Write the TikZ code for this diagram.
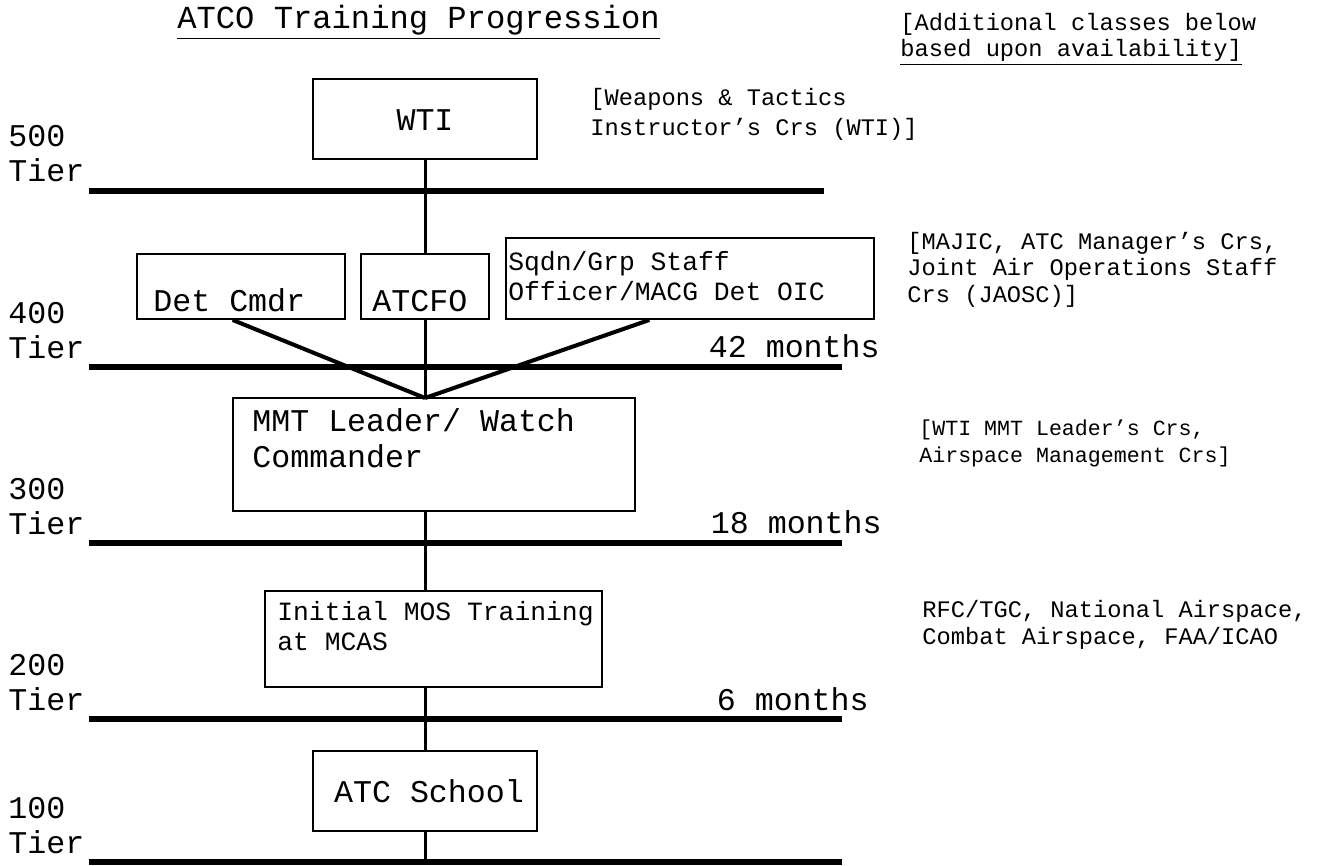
\documentclass[tikz,border=0pt]{standalone}
\usepackage{fontspec}
\setmainfont{Liberation Mono}
\usetikzlibrary{positioning, calc}

\begin{document}
\begin{tikzpicture}[x=0.02cm, y=-0.02cm,
		box/.style={draw, rectangle, line width=1.1pt, inner sep=0pt},
		big/.style={font=\fontsize{18}{20}\selectfont, inner sep=0pt, align=left},
		mid/.style={font=\fontsize{15}{16.8}\selectfont, inner sep=0pt, align=left},
		note/.style={font=\fontsize{13.5}{15}\selectfont, inner sep=0pt, align=left},
		small note/.style={font=\fontsize{12.3}{15.3}\selectfont, inner sep=0pt, align=left},
		tier line/.style={line width=3.2pt},
		link/.style={line width=1.7pt},
		diag/.style={line width=2.3pt}]

		\useasboundingbox (0,0) rectangle (1327,865);

		%% Headings
		\node (title) [big, font=\fontsize{18.3}{20}\selectfont, anchor=base west] at (177,29) {\underline{ATCO Training Progression}};
		\node (avail) [note, anchor=base west] at (900,57) {[Additional classes below\\\underline{based upon availability]}};

		%% Tier lines
		\begin{scope}
			\coordinate (t500w) at (89,191); \coordinate (t500e) at (824,191);
			\coordinate (t400w) at (89,367); \coordinate (t400e) at (842,367);
			\coordinate (t300w) at (89,543); \coordinate (t300e) at (842,543);
			\coordinate (t200w) at (89,719); \coordinate (t200e) at (842,719);
			\coordinate (t100w) at (89,862); \coordinate (t100e) at (842,862);

			\node (lab500) [big, anchor=south west] at (8,182) {500\\Tier};
			\node (lab400) [big, anchor=south west] at (8,359) {400\\Tier};
			\node (lab300) [big, anchor=south west] at (8,535) {300\\Tier};
			\node (lab200) [big, anchor=south west] at (8,711) {200\\Tier};
			\node (lab100) [big, anchor=south west] at (8,854) {100\\Tier};

			\node (m42) [big, anchor=base east] at (880,357) {42 months};
			\node (m18) [big, anchor=base east] at (882,533) {18 months};
			\node (m6) [big, anchor=base east] at (869,710) {6 months};
		\end{scope}

		%% Boxes
		\begin{scope}
			\node (wti) at (425,119) [box, minimum width=4.48cm, minimum height=1.6cm] {};
			\node (det) at (241,286.5) [box, minimum width=4.16cm, minimum height=1.3cm] {};
			\node (atcfo) at (425,286.5) [box, minimum width=2.56cm, minimum height=1.3cm] {};
			\node (sqdn) at (690,278.5) [box, minimum width=7.36cm, minimum height=1.62cm] {};
			\node (mmt) at (434,454.5) [box, minimum width=8.04cm, minimum height=2.26cm] {};
			\node (mos) at (433.5,639) [box, minimum width=6.74cm, minimum height=1.92cm] {};
			\node (school) at (425,791) [box, minimum width=4.48cm, minimum height=1.6cm] {};
		\end{scope}

		% Box texts
		\begin{scope}
			\node (wti_txt) [big, anchor=base] at (425,130) {WTI};
			\node (det_txt) [big, anchor=base west] at (153,311) {Det Cmdr};
			\node (atcfo_txt) [big, anchor=base west] at (372,311) {ATCFO};
			\node (sqdn_txt) [mid, anchor=base west] at (508,300) {Sqdn/Grp Staff\\Officer/MACG Det OIC};
			\node (mmt_txt) [big, anchor=base west] at (252,467) {MMT Leader/ Watch\\Commander};
			\node (mos_txt) [mid, anchor=base west] at (277,650) {Initial MOS Training\\at MCAS};
			\node (school_txt) [big, anchor=base] at (429,802) {ATC School};
		\end{scope}

		% Side notes
		\begin{scope}
			\node (wti_note) [note, font=\fontsize{13.5}{17}\selectfont, anchor=base west] at (590,135) {[Weapons \& Tactics\\Instructor’s Crs (WTI)]};
			\node (majic_note) [note, anchor=base west] at (907,302) {[MAJIC, ATC Manager’s Crs,\\Joint Air Operations Staff\\Crs (JAOSC)]};
			\node (mmt_note) [small note, anchor=base west] at (919,462) {[WTI MMT Leader’s Crs,\\Airspace Management Crs]};
			\node (mos_note) [note, anchor=base west] at (922,644) {RFC/TGC, National Airspace,\\Combat Airspace, FAA/ICAO};
		\end{scope}

		%% Edges
		\draw[tier line] (t500w) -- (t500e);
		\draw[tier line] (t400w) -- (t400e);
		\draw[tier line] (t300w) -- (t300e);
		\draw[tier line] (t200w) -- (t200e);
		\draw[tier line] (t100w) -- (t100e);

		\coordinate (hub) at (425,398);
		\draw[link] (hub |- wti.south) -- (hub |- atcfo.north);
		\draw[link] (hub |- atcfo.south) -- (hub);
		\draw[diag] ($(det.south west)!0.46!(det.south east)$) -- (hub);
		\draw[diag] ($(sqdn.south west)!0.39!(sqdn.south east)$) -- (hub);
		\draw[link] (hub |- mmt.south) -- (hub |- mos.north);
		\draw[link] (hub |- mos.south) -- (hub |- school.north);
		\draw[link] (hub |- school.south) -- (hub |- t100w);
	\end{tikzpicture}
\end{document}
